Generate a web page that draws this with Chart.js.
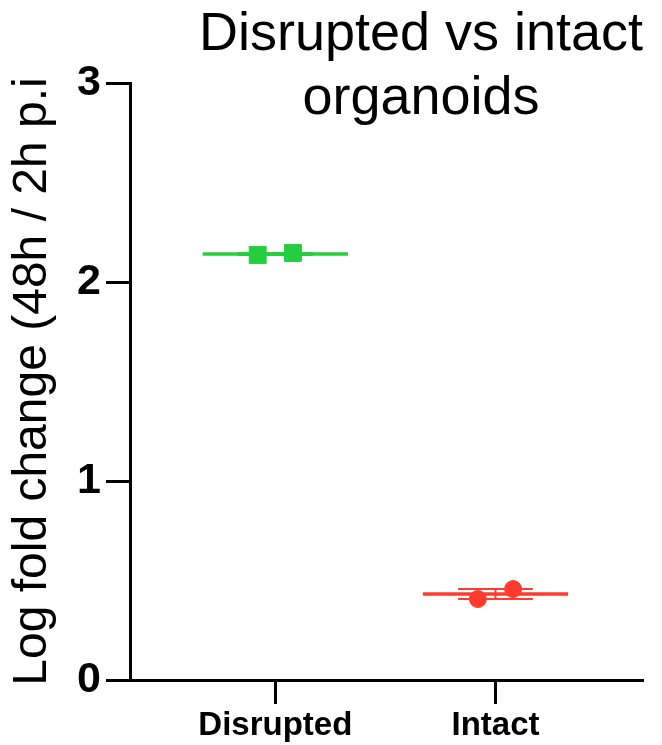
<!DOCTYPE html>
<html>
<head>
<meta charset="utf-8">
<script src="https://cdn.jsdelivr.net/npm/chart.js@4.4.0/dist/chart.umd.min.js"></script>
<style>
  body { margin: 0; background: #fff; }
  canvas { display: block; }
</style>
</head>
<body>
<canvas id="chart" width="662" height="745"></canvas>
<script>
// data
var categories = ['Disrupted', 'Intact'];
var disruptedValues = [2.136, 2.146];
var intactValues = [0.407, 0.457];
var jitter = [-0.08, 0.08];
var yTicks = [0, 1, 2, 3];
var titleLines = ['Disrupted vs intact', 'organoids'];
var yLabel = 'Log fold change (48h / 2h p.i';

var colors = ['#27cd40', '#ff3b30'];
var fontFamily = '"Liberation Sans", Arial, Helvetica, sans-serif';

var groups = [disruptedValues, intactValues];

function mean(arr) {
    return arr.reduce(function (a, b) { return a + b; }, 0) / arr.length;
}
function sem(arr) {
    var m = mean(arr);
    var ss = arr.reduce(function (a, b) { return a + (b - m) * (b - m); }, 0);
    return Math.sqrt(ss / (arr.length - 1)) / Math.sqrt(arr.length);
}

// mean line + SEM bars, drawn under the points
var meanPlugin = {
    id: 'meanPlugin',
    beforeDatasetsDraw: function (chart) {
        var ctx = chart.ctx;
        var xs = chart.scales.x, ys = chart.scales.y;
        groups.forEach(function (vals, i) {
            var pos = i + 1;
            var m = mean(vals), e = sem(vals);
            ctx.save();
            ctx.strokeStyle = colors[i];
            // error bar
            ctx.lineWidth = 2;
            ctx.beginPath();
            ctx.moveTo(xs.getPixelForValue(pos), ys.getPixelForValue(m - e));
            ctx.lineTo(xs.getPixelForValue(pos), ys.getPixelForValue(m + e));
            [m - e, m + e].forEach(function (v) {
                ctx.moveTo(xs.getPixelForValue(pos - 0.17), ys.getPixelForValue(v));
                ctx.lineTo(xs.getPixelForValue(pos + 0.17), ys.getPixelForValue(v));
            });
            ctx.stroke();
            // mean
            ctx.lineWidth = 3.5;
            ctx.beginPath();
            ctx.moveTo(xs.getPixelForValue(pos - 0.33), ys.getPixelForValue(m));
            ctx.lineTo(xs.getPixelForValue(pos + 0.33), ys.getPixelForValue(m));
            ctx.stroke();
            ctx.restore();
        });
    }
};

var titlePlugin = {
    id: 'titlePlugin',
    afterDraw: function (chart) {
        var ctx = chart.ctx;
        ctx.save();
        ctx.font = '54px ' + fontFamily;
        ctx.fillStyle = '#000';
        ctx.textAlign = 'center';
        ctx.textBaseline = 'alphabetic';
        var cx = chart.chartArea.right - 222;
        ctx.fillText(titleLines[0], cx, 50);
        ctx.fillText(titleLines[1], cx, 114);
        ctx.restore();
    }
};

var datasets = groups.map(function (vals, i) {
    return {
        label: categories[i],
        data: vals.map(function (v, j) { return { x: i + 1 + jitter[j], y: v }; }),
        backgroundColor: colors[i],
        borderColor: colors[i],
        borderWidth: 1,
        pointStyle: i === 0 ? 'rect' : 'circle',
        pointRadius: i === 0 ? 12 : 8.5,
        pointHoverRadius: i === 0 ? 12 : 8.5
    };
});

new Chart(document.getElementById('chart'), {
    type: 'scatter',
    data: { datasets: datasets },
    options: {
        responsive: false,
        animation: false,
        layout: { padding: { top: 83, right: 19, bottom: 0, left: 0 } },
        plugins: {
            legend: { display: false },
            tooltip: { enabled: false },
            title: { display: false }
        },
        scales: {
            x: {
                type: 'linear',
                min: 0.34,
                max: 2.67,
                afterBuildTicks: function (scale) {
                    scale.ticks = categories.map(function (c, i) { return { value: i + 1 }; });
                },
                afterFit: function (scale) { scale.height = 65; },
                ticks: {
                    autoSkip: false,
                    maxRotation: 0,
                    padding: 2,
                    color: '#000',
                    font: { family: fontFamily, size: 33, weight: 'bold' },
                    callback: function (v) { return categories[v - 1]; }
                },
                grid: { drawOnChartArea: false, drawTicks: true, tickLength: 24, tickWidth: 3, color: '#000' },
                border: { display: true, width: 3, color: '#000' }
            },
            y: {
                min: 0,
                max: 3,
                afterBuildTicks: function (scale) {
                    scale.ticks = yTicks.map(function (v) { return { value: v }; });
                },
                afterFit: function (scale) { scale.width = 130; },
                ticks: {
                    padding: 5,
                    color: '#000',
                    font: { family: fontFamily, size: 43, weight: 'bold' }
                },
                grid: { drawOnChartArea: false, drawTicks: true, tickLength: 24, tickWidth: 3, color: '#000' },
                border: { display: true, width: 3, color: '#000' },
                title: {
                    display: true,
                    text: yLabel,
                    color: '#000',
                    padding: { top: 4, bottom: 0 },
                    font: { family: fontFamily, size: 48, weight: 'normal' }
                }
            }
        }
    },
    plugins: [meanPlugin, titlePlugin]
});
</script>
</body>
</html>
